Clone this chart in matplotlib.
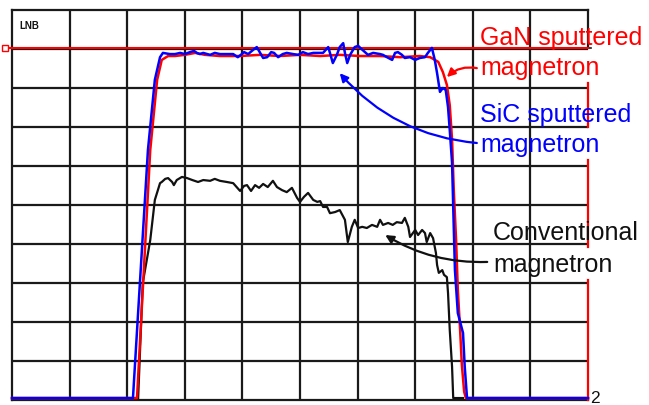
import matplotlib
matplotlib.use("Agg")
import matplotlib.pyplot as plt

plt.rcParams["font.family"] = ["Liberation Sans", "DejaVu Sans"]

# time / level in screen divisions (10 x 10 grid)
sic_t = [0, 2.10, 2.36, 2.48, 2.57, 2.62, 2.74, 2.83, 2.92, 3.00, 3.09, 3.16, 3.21, 3.26,
         3.32, 3.39, 3.44, 3.52, 3.61, 3.73, 3.84, 3.92, 3.99, 4.03, 4.10, 4.18, 4.25, 4.32,
         4.36, 4.43, 4.50, 4.55, 4.62, 4.70, 4.77, 4.88, 4.97, 5.05, 5.14, 5.23, 5.31, 5.40,
         5.49, 5.52, 5.57, 5.64, 5.69, 5.75, 5.78, 5.82, 5.87, 5.95, 6.01, 6.09, 6.18, 6.27,
         6.39, 6.44, 6.51, 6.60, 6.65, 6.70, 6.77, 6.82, 6.91, 7.00, 7.08, 7.17, 7.22, 7.29,
         7.34, 7.38, 7.43, 7.48, 7.53, 7.57, 7.60, 7.64, 7.67, 7.69, 7.74, 7.83, 7.86, 7.90, 10]
sic_v = [0.05, 0.05, 6.41, 8.21, 8.79, 8.90, 8.87, 8.87, 8.90, 8.87, 8.92, 8.95, 8.90, 8.87,
         8.90, 8.87, 8.85, 8.90, 8.87, 8.87, 8.87, 8.79, 8.87, 8.92, 8.87, 8.97, 9.05, 8.87,
         8.77, 8.79, 8.92, 8.90, 8.79, 8.87, 8.90, 8.87, 8.85, 8.92, 8.87, 8.90, 8.90, 8.90,
         9.05, 8.90, 8.64, 8.85, 9.05, 9.15, 8.90, 8.64, 8.85, 9.05, 9.08, 8.97, 8.85, 8.90,
         8.87, 8.85, 8.79, 8.72, 8.90, 8.92, 8.85, 8.77, 8.79, 8.72, 8.77, 8.79, 8.90, 9.03,
         8.72, 8.38, 7.90, 8.00, 7.95, 7.51, 6.92, 6.08, 4.40, 3.33, 2.23, 1.72, 0.85, 0.05, 0.05]

gan_t = [0, 2.17, 2.40, 2.52, 2.60, 2.71, 2.83, 3.00, 3.18, 3.35, 3.61, 3.96, 4.31, 4.65,
         5.00, 5.35, 5.69, 6.04, 6.39, 6.74, 7.08, 7.26, 7.40, 7.48, 7.55, 7.60, 7.64, 7.67,
         7.71, 7.74, 7.78, 7.81, 7.85, 7.88, 10]
gan_v = [0.05, 0.05, 6.41, 8.21, 8.72, 8.82, 8.82, 8.85, 8.90, 8.85, 8.82, 8.82, 8.85, 8.82,
         8.85, 8.82, 8.85, 8.82, 8.82, 8.79, 8.82, 8.79, 8.67, 8.41, 8.08, 7.56, 6.67, 5.38,
         4.10, 2.82, 1.79, 0.90, 0.21, 0.05, 0.05]

conv_t = [2.19, 2.27, 2.34, 2.40, 2.48, 2.57, 2.60, 2.66, 2.71, 2.78, 2.81, 2.86, 2.95, 3.04,
          3.13, 3.23, 3.32, 3.44, 3.52, 3.61, 3.73, 3.84, 3.96, 4.03, 4.08, 4.15, 4.22, 4.29,
          4.36, 4.44, 4.53, 4.60, 4.69, 4.77, 4.86, 4.95, 5.00, 5.07, 5.14, 5.23, 5.30, 5.35,
          5.40, 5.47, 5.52, 5.61, 5.69, 5.78, 5.83, 5.90, 5.95, 6.01, 6.08, 6.16, 6.25, 6.34,
          6.39, 6.44, 6.53, 6.61, 6.68, 6.77, 6.82, 6.88, 6.91, 7.00, 7.05, 7.12, 7.17, 7.20,
          7.26, 7.31, 7.36, 7.38, 7.41, 7.47, 7.50, 7.55, 7.57, 7.60, 7.64, 7.66, 7.83]
conv_v = [0.05, 3.00, 3.59, 4.10, 5.13, 5.56, 5.59, 5.67, 5.69, 5.59, 5.51, 5.64, 5.72, 5.69,
          5.64, 5.59, 5.64, 5.62, 5.67, 5.62, 5.59, 5.56, 5.36, 5.49, 5.51, 5.36, 5.51, 5.44,
          5.54, 5.46, 5.62, 5.46, 5.38, 5.33, 5.44, 5.18, 5.08, 5.21, 5.31, 5.13, 5.08, 5.10,
          4.95, 4.95, 4.79, 4.82, 4.87, 4.62, 4.05, 4.44, 4.62, 4.41, 4.44, 4.41, 4.49, 4.44,
          4.62, 4.49, 4.54, 4.49, 4.56, 4.54, 4.67, 4.44, 4.18, 4.36, 4.23, 4.36, 4.28, 4.05,
          4.28, 4.15, 3.77, 3.46, 3.26, 3.33, 3.21, 3.15, 2.74, 1.79, 0.85, 0.05, 0.05]

ref_level = 9.03

fig = plt.figure(figsize=(6.49, 4.05), dpi=100)
ax = fig.add_axes([12 / 649, 5 / 405, 576 / 649, 390 / 405])
ax.set_xlim(0, 10)
ax.set_ylim(0, 10)

# scope graticule
ax.set_xticks(range(1, 10))
ax.set_yticks(range(1, 10))
ax.tick_params(length=0, labelbottom=False, labelleft=False)
ax.grid(True, color="#1a1a1a", lw=1.6)
for side in ["left", "top", "bottom"]:
    ax.spines[side].set_color("#1a1a1a")
    ax.spines[side].set_linewidth(1.6)
ax.spines["right"].set_visible(False)

# right edge: black at top, red segments below
ax.plot([10, 10], [9.03, 10], color="#1a1a1a", lw=1.6, clip_on=False)
ax.plot([10, 10.06], [9.03, 9.03], color="#1a1a1a", lw=1.2, clip_on=False)
for y0, y1 in [(7.0, 8.13), (3.92, 6.15), (0, 3.08)]:
    ax.plot([10, 10], [y0, y1], color="red", lw=1.6, clip_on=False, zorder=3)

# reference level marker
ax.plot([-0.12, 10], [ref_level, ref_level], color="red", lw=1.5, clip_on=False, zorder=3)
ax.plot([-0.12], [ref_level], marker="s", ms=4, mfc="white", mec="red", mew=1,
        clip_on=False, zorder=4)

ax.plot(conv_t, conv_v, color="#111111", lw=1.6, clip_on=False, zorder=4)
ax.plot(gan_t, gan_v, color="red", lw=1.8, clip_on=False, zorder=5)
ax.plot(sic_t, sic_v, color="blue", lw=1.8, clip_on=False, zorder=6)

# labels
fs = 18
ax.text(8.125, 9.10, "GaN sputtered", color="red", fontsize=fs, va="baseline")
ax.text(8.125, 8.33, "magnetron", color="red", fontsize=fs, va="baseline")
ax.text(8.125, 7.13, "SiC sputtered", color="blue", fontsize=fs, va="baseline")
ax.text(8.125, 6.36, "magnetron", color="blue", fontsize=fs, va="baseline")
ax.text(8.35, 4.10, "Conventional", color="#111111", fontsize=fs, va="baseline")
ax.text(8.35, 3.28, "magnetron", color="#111111", fontsize=fs, va="baseline")

arrow = dict(arrowstyle="-|>", lw=1.6, mutation_scale=12, shrinkA=0, shrinkB=0)
ax.annotate("", xy=(7.55, 8.28), xytext=(8.07, 8.51),
            arrowprops=dict(arrow, color="red", connectionstyle="arc3,rad=0.25"), zorder=7)
ax.annotate("", xy=(5.69, 8.38), xytext=(8.07, 6.59),
            arrowprops=dict(arrow, color="blue", connectionstyle="arc3,rad=-0.2"), zorder=7)
ax.annotate("", xy=(6.48, 4.23), xytext=(8.25, 3.54),
            arrowprops=dict(arrow, color="#111111", connectionstyle="arc3,rad=-0.15"), zorder=7)

ax.text(10.03, 0.05, "2", fontsize=12.5, color="#111111", va="center", ha="left")
ax.text(0.12, 9.6, "LNB", fontsize=7, fontweight="bold", color="#111111", va="center")

fig.savefig("out.png", dpi=100)
